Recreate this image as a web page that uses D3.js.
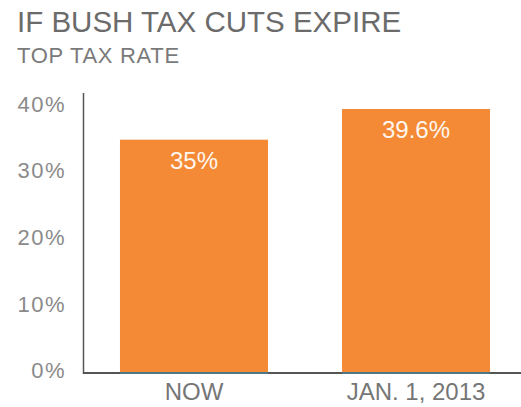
<!DOCTYPE html>
<html>
<head>
<meta charset="utf-8">
<script src="https://cdn.jsdelivr.net/npm/d3@7"></script>
<style>
  html, body { margin: 0; padding: 0; background: #fff; }
  svg { display: block; }
  text { font-family: "Liberation Sans", Arial, Helvetica, sans-serif; }
</style>
</head>
<body>
<script>
// Top marginal income tax rate, now vs. after the cuts lapse
const categories = ["NOW", "JAN. 1, 2013"];
const rates = [35, 39.6];
const tickValues = [0, 10, 20, 30, 40];
const title = "IF BUSH TAX CUTS EXPIRE";
const subtitle = "TOP TAX RATE";

const width = 521, height = 407;
const svg = d3.select("body").append("svg")
  .attr("width", width).attr("height", height);

const x = d3.scaleBand()
  .domain(categories)
  .range([84, 526])
  .paddingInner(1 / 3)
  .paddingOuter(0.162);

const y = d3.scaleLinear()
  .domain([0, 42])
  .range([373, 93]);

// Titles
svg.append("text")
  .attr("x", 17).attr("y", 32)
  .attr("font-size", 29.5)
  .attr("fill", "#6b6b6b")
  .text(title);

svg.append("text")
  .attr("x", 17).attr("y", 63)
  .attr("font-size", 22)
  .attr("letter-spacing", 0.7)
  .attr("fill", "#7a7a7a")
  .text(subtitle);

// Bars
const bars = svg.append("g");
bars.selectAll("rect")
  .data(rates)
  .join("rect")
  .attr("x", (d, i) => x(categories[i]))
  .attr("y", d => y(d))
  .attr("width", x.bandwidth())
  .attr("height", d => y(0) - y(d))
  .attr("fill", "#f48a35");

// Value labels inside the bars
bars.selectAll("text")
  .data(rates)
  .join("text")
  .attr("x", (d, i) => x(categories[i]) + x.bandwidth() / 2)
  .attr("y", d => y(d) + 29)
  .attr("text-anchor", "middle")
  .attr("font-size", 24)
  .attr("fill", "#fff6ef")
  .text(d => d + "%");

// Y axis: labels only, no tick marks
const yAxis = svg.append("g")
  .attr("transform", "translate(84,0)")
  .call(d3.axisLeft(y)
    .tickValues(tickValues)
    .tickSize(0)
    .tickPadding(18)
    .tickFormat(d => d + "%"));
yAxis.select(".domain").remove();
yAxis.selectAll("text")
  .attr("font-size", 22)
  .attr("letter-spacing", 1.5)
  .attr("fill", "#8a8a8a")
  .attr("dy", "0.22em");

svg.append("line")
  .attr("x1", 83.5).attr("x2", 83.5)
  .attr("y1", y(42)).attr("y2", y(0) + 1)
  .attr("stroke", "#555").attr("stroke-width", 1.5);

// X axis baseline
svg.append("line")
  .attr("x1", 83).attr("x2", width)
  .attr("y1", y(0)).attr("y2", y(0))
  .attr("stroke", "#555").attr("stroke-width", 2);

svg.append("g").selectAll("line")
  .data(categories)
  .join("line")
  .attr("x1", d => x(d)).attr("x2", d => x(d) + x.bandwidth())
  .attr("y1", y(0)).attr("y2", y(0))
  .attr("stroke", "#4f7886").attr("stroke-width", 2);

// Category labels
svg.append("g").selectAll("text")
  .data(categories)
  .join("text")
  .attr("x", d => x(d) + x.bandwidth() / 2)
  .attr("y", 400)
  .attr("text-anchor", "middle")
  .attr("font-size", 24)
  .attr("fill", "#767676")
  .text(d => d);
</script>
</body>
</html>
